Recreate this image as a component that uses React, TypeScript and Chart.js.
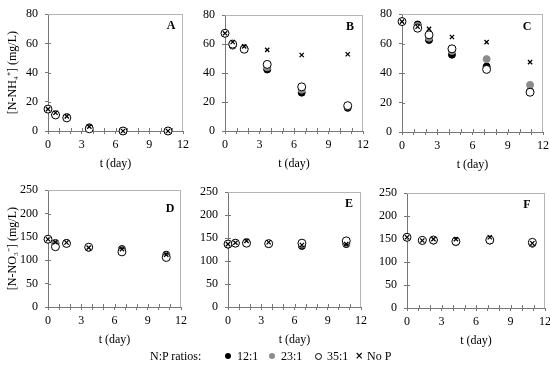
import React, { useEffect, useRef } from 'react';
import { Chart, registerables } from 'chart.js';
Chart.register(...registerables);

const FONT = "'Liberation Serif', 'Times New Roman', serif";

// Sampling days
const tAB = [0, 0.67, 1.67, 3.67, 6.67, 10.67];
const tCF = [0, 1.33, 2.3, 4.25, 7.2, 10.9];

// Panel A  N-NH4+
const a12 = [15, 11, 9.5, 2.5, 0, 0];
const a23 = [15, 11.5, 9.5, 2, 0, 0];
const a35 = [15, 11, 9, 1.5, 0, 0];
const aNoP = [15, 12.5, 10, 3, 0, 0];
// Panel B
const b12 = [67.5, 59, 57, 42.5, 26.5, 16];
const b23 = [67.5, 59.5, 56.5, 44, 28.5, 17];
const b35 = [67.5, 60, 56.5, 46, 30.5, 17.5];
const bNoP = [67.5, 61.5, 58.5, 56, 52.5, 53];
// Panel C
const c12 = [75, 73, 62.5, 52.5, 44.5, 27.5];
const c23 = [75, 72, 64, 55, 49.5, 32];
const c35 = [75, 70.5, 66, 56.5, 42.5, 27];
const cNoP = [75, 71.5, 70, 64.5, 61, 47.5];
// Panel D  N-NO3-
const d12 = [145, 137, 137, 127, 124, 112];
const d23 = [145, 136, 136, 127, 122, 110];
const d35 = [145, 129, 136, 128, 118, 106];
const dNoP = [145, 138.5, 138, 127, 124, 112];
// Panel E
const e12 = [136, 139, 141, 137, 133, 137];
const e23 = [137, 139, 140, 138, 136, 139];
const e35 = [137, 139, 139, 138, 139, 144];
const eNoP = [137, 140, 144, 141, 135, 137];
// Panel F
const f12 = [154, 147, 147, 146, 147, 140];
const f23 = [154, 147, 147, 143, 148, 141];
const f35 = [154, 147, 148, 145, 148, 143];
const fNoP = [154, 147, 150, 150, 154, 141];

const seriesLabels = ['12:1', '23:1', '35:1', 'No P'];
const xTickStep = 3;
const nhTicks = { max: 80, step: 20 };
const noTicks = { max: 250, step: 50 };
const nhTitle = '[N-NH\u2084\u207A] (mg/L)';
const noTitle = '[N-NO\u2083\u207B] (mg/L)';
const xTitle = 't (day)';

type Spec = {
  letter: string; t: number[]; s: number[][]; yMax: number; yStep: number; yTitle: string | null;
  L: number; R: number; T: number; B: number; cl: number; lx: number; ly: number;
};

const specs: Spec[] = [
  { letter: 'A', t: tAB, s: [a12, a23, a35, aNoP], yMax: nhTicks.max, yStep: nhTicks.step, yTitle: nhTitle, L: 48, R: 185, T: 8, B: 131, cl: 0, lx: 12, ly: 12 },
  { letter: 'B', t: tAB, s: [b12, b23, b35, bNoP], yMax: nhTicks.max, yStep: nhTicks.step, yTitle: null, L: 225, R: 365, T: 9, B: 131, cl: 190, lx: 13, ly: 12 },
  { letter: 'C', t: tCF, s: [c12, c23, c35, cNoP], yMax: nhTicks.max, yStep: nhTicks.step, yTitle: null, L: 402, R: 545, T: 8, B: 132, cl: 370, lx: 16, ly: 13 },
  { letter: 'D', t: tAB, s: [d12, d23, d35, dNoP], yMax: noTicks.max, yStep: noTicks.step, yTitle: noTitle, L: 48, R: 183, T: 184, B: 307, cl: 0, lx: 11, ly: 19 },
  { letter: 'E', t: tAB, s: [e12, e23, e35, eNoP], yMax: noTicks.max, yStep: noTicks.step, yTitle: null, L: 228, R: 363, T: 186, B: 307, cl: 190, lx: 12, ly: 12 },
  { letter: 'F', t: tCF, s: [f12, f23, f35, fNoP], yMax: noTicks.max, yStep: noTicks.step, yTitle: null, L: 407, R: 547, T: 187, B: 308, cl: 370, lx: 18, ly: 12 },
];

const styles = [
  { pointStyle: 'circle', backgroundColor: '#000', borderColor: '#000', radius: 3.5, borderWidth: 1, order: 4 },
  { pointStyle: 'circle', backgroundColor: '#8c8c8c', borderColor: '#8c8c8c', radius: 3.5, borderWidth: 1, order: 3 },
  { pointStyle: 'circle', backgroundColor: '#fff', borderColor: '#000', radius: 4, borderWidth: 1, order: 2 },
  { pointStyle: 'crossRot', backgroundColor: '#000', borderColor: '#000', radius: 3, borderWidth: 1.3, order: 1 },
];

const PAD_T = 8;
const PAD_R = 8;
const X_H = 40;

function Panel({ spec }: { spec: Spec }) {
  const ref = useRef<HTMLCanvasElement | null>(null);
  const width = spec.R + PAD_R - spec.cl;
  const height = spec.B - spec.T + PAD_T + X_H;
  const top = spec.T - PAD_T;
  useEffect(() => {
    const framePlugin = {
      id: 'frame' + spec.letter,
      afterDraw(chart: any) {
        const { ctx, chartArea: a, scales } = chart;
        ctx.save();
        ctx.lineWidth = 1;
        ctx.strokeStyle = '#b5b5b5';
        ctx.beginPath();
        ctx.moveTo(a.left, Math.round(a.top) + 0.5);
        ctx.lineTo(a.right, Math.round(a.top) + 0.5);
        ctx.moveTo(Math.round(a.right) - 0.5, a.top);
        ctx.lineTo(Math.round(a.right) - 0.5, a.bottom);
        ctx.stroke();
        ctx.strokeStyle = '#777';
        ctx.beginPath();
        scales.y.ticks.forEach((tk: any) => {
          const y = Math.round(scales.y.getPixelForValue(tk.value)) + 0.5;
          if (tk.value > 0 && tk.value < spec.yMax) {
            ctx.moveTo(a.left, y);
            ctx.lineTo(a.left + 3, y);
          }
        });
        scales.x.ticks.forEach((tk: any) => {
          const x = Math.round(scales.x.getPixelForValue(tk.value)) + 0.5;
          if (tk.value > 0 && tk.value < 12) {
            ctx.moveTo(x, a.bottom);
            ctx.lineTo(x, a.bottom - 3);
          }
        });
        ctx.stroke();
        ctx.fillStyle = '#000';
        ctx.font = 'bold 12px ' + FONT;
        ctx.textAlign = 'center';
        ctx.textBaseline = 'middle';
        ctx.fillText(spec.letter, a.right - spec.lx, a.top + spec.ly);
        ctx.restore();
      },
    };
    const chart = new Chart(ref.current as HTMLCanvasElement, {
      type: 'scatter',
      data: {
        datasets: spec.s.map((vals, i) => ({
          label: seriesLabels[i],
          data: vals.map((v, j) => ({ x: spec.t[j], y: v })),
          showLine: false,
          clip: false,
          ...styles[i],
          pointRadius: styles[i].radius,
          pointHoverRadius: styles[i].radius,
        })) as any,
      },
      options: {
        responsive: false,
        animation: false,
        events: [],
        layout: { padding: { left: 0, top: PAD_T, right: PAD_R, bottom: 0 } },
        plugins: { legend: { display: false }, tooltip: { enabled: false } },
        scales: {
          x: {
            type: 'linear', min: 0, max: 12,
            afterFit: (s: any) => { s.height = X_H; },
            border: { color: '#777', width: 1 },
            grid: { drawOnChartArea: false, drawTicks: true, tickLength: 3, color: '#777' },
            ticks: {
              stepSize: 1, autoSkip: false, maxRotation: 0, padding: 4,
              color: '#000', font: { family: FONT, size: 12 },
              callback: (v: any) => (Number(v) % xTickStep === 0 ? String(v) : ''),
            },
            title: { display: true, text: xTitle, color: '#000', font: { family: FONT, size: 12 }, padding: { top: 0, bottom: 0 } },
          },
          y: {
            type: 'linear', min: 0, max: spec.yMax,
            afterFit: (s: any) => { s.width = spec.L - spec.cl; },
            border: { color: '#777', width: 1 },
            grid: { drawOnChartArea: false, drawTicks: true, tickLength: 3, color: '#777' },
            ticks: { stepSize: spec.yStep, padding: 7, color: '#000', font: { family: FONT, size: 12 } },
            title: {
              display: !!spec.yTitle, text: spec.yTitle || '', color: '#000',
              font: { family: FONT, size: 12 }, padding: { top: 6, bottom: 0 },
            },
          },
        },
      } as any,
      plugins: [framePlugin],
    });
    return () => chart.destroy();
  }, []);
  return (
    <canvas
      ref={ref}
      width={width}
      height={height}
      style={{ position: 'absolute', left: spec.cl, top, width, height }}
    />
  );
}

const legendItems = [
  { label: seriesLabels[0], x: 228, kind: 'fill', color: '#000' },
  { label: seriesLabels[1], x: 272, kind: 'fill', color: '#8c8c8c' },
  { label: seriesLabels[2], x: 318, kind: 'open', color: '#000' },
  { label: seriesLabels[3], x: 358, kind: 'cross', color: '#000' },
];

export default function App() {
  useEffect(() => {
    document.body.style.margin = '0';
  }, []);
  return (
    <div style={{ position: 'fixed', left: 0, top: 0, width: 550, height: 374, background: '#fff', overflow: 'hidden', fontFamily: FONT }}>
      {specs.map((s) => <Panel key={s.letter} spec={s} />)}
      <div style={{ position: 'absolute', left: 150, top: 349, fontSize: 12, lineHeight: '14px', color: '#000' }}>N:P ratios:</div>
      {legendItems.map((it) => (
        <React.Fragment key={it.label}>
          {it.kind === 'cross' ? (
            <div style={{ position: 'absolute', left: it.x - 3, top: 349, fontSize: 10, lineHeight: '14px', fontWeight: 'bold', fontFamily: "'DejaVu Sans', sans-serif" }}>×</div>
          ) : (
            <div style={{
              position: 'absolute', left: it.x - 3, top: 353, width: it.kind === 'open' ? 5 : 6, height: it.kind === 'open' ? 5 : 6,
              borderRadius: '50%', background: it.kind === 'open' ? '#fff' : it.color,
              border: it.kind === 'open' ? '1px solid #000' : 'none',
            }} />
          )}
          <div style={{ position: 'absolute', left: it.x + 9, top: 349, fontSize: 12, lineHeight: '14px', color: '#000' }}>{it.label}</div>
        </React.Fragment>
      ))}
    </div>
  );
}
